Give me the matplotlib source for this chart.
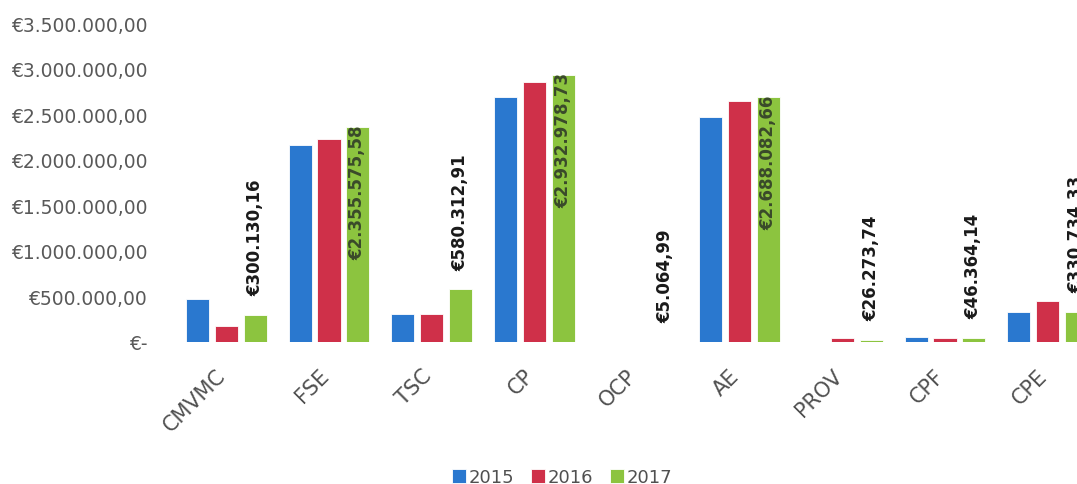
import numpy as np
import matplotlib
matplotlib.use("Agg")
import matplotlib.pyplot as plt
from matplotlib.ticker import FuncFormatter

categorias = ["CMVMC", "FSE", "TSC", "CP", "OCP", "AE", "PROV", "CPF", "CPE"]
anos = ["2015", "2016", "2017"]
v2015 = [470000, 2160000, 310000, 2690000, 0, 2465000, 0, 60000, 330000]
v2016 = [180000, 2230000, 310000, 2850000, 0, 2645000, 45000, 40000, 450000]
v2017 = [300130.16, 2355575.58, 580312.91, 2932978.73, 5064.99, 2688082.66,
         26273.74, 46364.14, 330734.33]
cores = ["#2a78cf", "#cf3049", "#8cc43f"]


def euro(v, pos=None):
    if v == 0:
        return "€-"
    s = f"{v:,.2f}"
    s = s.replace(",", "X").replace(".", ",").replace("X", ".")
    return "€" + s


def main():
    plt.rcParams['font.family'] = ['DejaVu Sans']
    fig = plt.figure(figsize=(10.77, 4.85), dpi=100)
    W, H = 1077, 485
    x0, x1, ytop, ybot = 175, 1099, 24, 343
    ax = fig.add_axes([x0 / W, (H - ybot) / H, (x1 - x0) / W, (ybot - ytop) / H])

    x = np.arange(len(categorias))
    largura = 0.225
    passo = 0.28
    series = [v2015, v2016, v2017]
    barras = []
    for i, (vals, cor) in enumerate(zip(series, cores)):
        b = ax.bar(x + (i - 1) * passo, vals, largura, color=cor,
                   edgecolor="#ffffff", linewidth=0.6, label=anos[i])
        barras.append(b)

    # rotulos da serie 2017
    for xi, v in zip(x, v2017):
        xl = xi + passo
        if v > 2000000:
            ax.annotate(euro(v), (xl, v), xytext=(0, 2), textcoords="offset points",
                        rotation=90, ha="center", va="top", fontsize=12,
                        fontweight="bold", color="#3a4a2a", clip_on=False)
        else:
            ax.annotate(euro(v), (xl, v), xytext=(0, 14), textcoords="offset points",
                        rotation=90, ha="center", va="bottom", fontsize=12,
                        fontweight="bold", color="#1a1a1a")

    ax.set_xlim(-0.5, len(categorias) - 0.5)
    ax.set_ylim(0, 3500000)
    ax.set_yticks(np.arange(0, 3500001, 500000))
    ax.yaxis.set_major_formatter(FuncFormatter(euro))
    ax.set_xticks(x)
    ax.set_xticklabels([])
    # nomes das categorias, inclinados
    for xi, nome in zip(x, categorias):
        ax.annotate(nome, (xi, 0), xycoords=("data", "axes fraction"),
                    xytext=(-7.5, -16.5), textcoords="offset points", rotation=45,
                    ha="right", va="top", rotation_mode="anchor",
                    fontsize=15, color="#505050")
    ax.tick_params(axis="y", labelsize=13.5, colors="#595959", length=0, pad=20)
    ax.tick_params(axis="x", length=0)
    for s in ax.spines.values():
        s.set_visible(False)

    fig.legend(handles=barras, labels=anos, loc="center", bbox_to_anchor=(0.522, 1 - 478 / H),
               ncol=3, frameon=False, fontsize=13, handlelength=0.8, handleheight=0.8,
               handletextpad=0.15, columnspacing=0.9, labelcolor="#505050")

    fig.savefig("out.png", dpi=100)


if __name__ == '__main__':
    main()
